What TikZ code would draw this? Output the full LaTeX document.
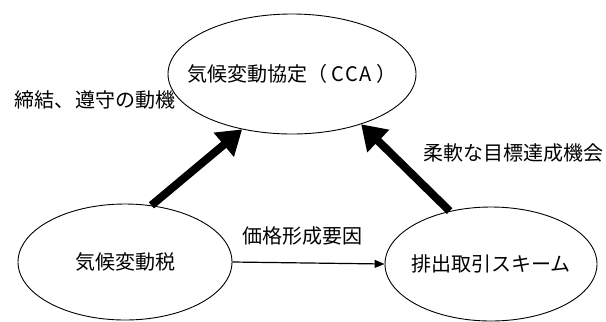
\documentclass[tikz,border=0pt]{standalone}
\usepackage{fontspec}
\setmainfont{Noto Sans CJK JP}
\usetikzlibrary{shapes.geometric,arrows.meta}
\tikzset{
  oval/.style={ellipse,draw,line width=0.9bp,inner sep=0pt},
  lbl/.style={inner sep=0pt,font=\fontsize{20bp}{22bp}\selectfont},
  bigarrow/.style={line width=8bp,-{Triangle[length=24bp,width=30bp]}},
  thinarrow/.style={line width=1.2bp,-{Triangle[length=10bp,width=8bp]}}
}
\begin{document}
\begin{tikzpicture}[x=1bp,y=-1bp]
\useasboundingbox (0,0) rectangle (606,321);
\node[oval,minimum width=248bp,minimum height=120bp,label={[lbl]center:気候変動協定（\hspace{4bp}C\hspace{1bp}C\hspace{1bp}A\hspace{5bp}）}] (cca) at (292,74) {};
\node[oval,minimum width=214bp,minimum height=116bp,label={[lbl]center:気候変動税}] (ctax) at (125,262) {};
\node[oval,minimum width=212bp,minimum height=114bp,label={[lbl]center:排出取引スキーム}] (ets) at (491,264) {};
\draw[bigarrow] (ctax.65) -- (cca.228);
\draw[bigarrow] (ets.128) -- (cca.324);
\draw[thinarrow] (ctax.east) -- (ets.west);
\node[lbl] (l1) at (95,100) {締結、遵守の動機};
\node[lbl] (l2) at (513,153) {柔軟な目標達成機会};
\node[lbl] (l3) at (302,236) {価格形成要因};
\end{tikzpicture}
\end{document}
